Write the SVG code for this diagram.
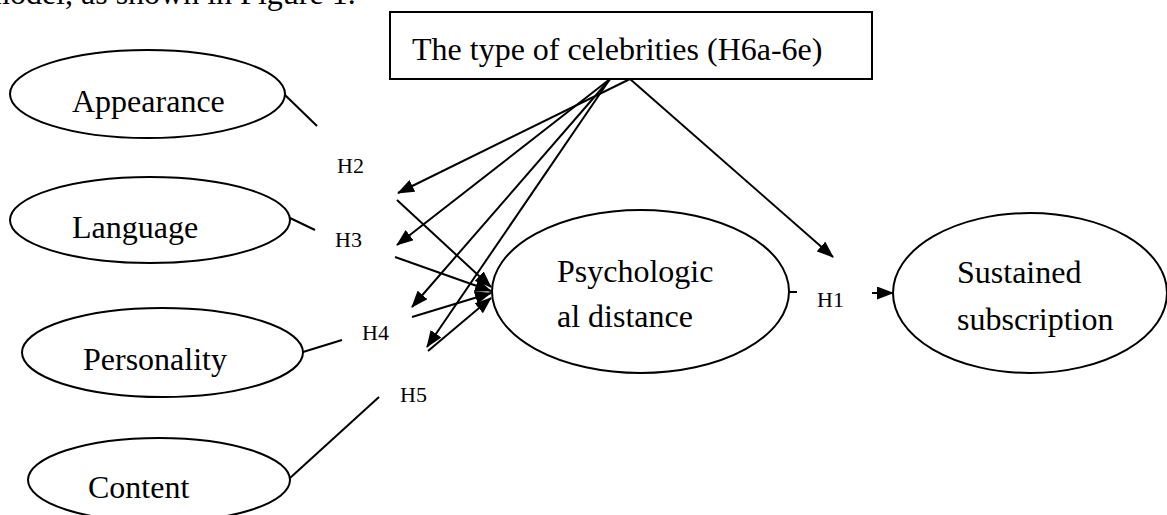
<svg xmlns="http://www.w3.org/2000/svg" width="1167" height="515" viewBox="0 0 1167 515">
<style>
.n{fill:#fff;stroke:#000;stroke-width:2}
.t{font-family:"Liberation Serif","Times New Roman",serif;font-size:32px;fill:#000}
.h{font-family:"Liberation Serif","Times New Roman",serif;font-size:22px;fill:#000}
.c{stroke:#000;stroke-width:2;fill:none}
.a{marker-end:url(#arr)}
</style>
<defs>
<marker id="arr" markerUnits="userSpaceOnUse" markerWidth="17" markerHeight="13" refX="16" refY="6.5" orient="auto">
<path d="M0,0 L17,6.5 L0,13 z" fill="#000"/>
</marker>
</defs>
<rect width="1167" height="515" fill="#fff"/>
<text class="t" x="-15" y="4">model, as shown in Figure 1.</text>
<g id="celebrities">
<rect class="n" x="390" y="12" width="482" height="67"/>
<text class="t" x="412" y="60">The type of celebrities (H6a-6e)</text>
</g>
<g id="appearance">
<ellipse class="n" cx="147.5" cy="94" rx="137.5" ry="44"/>
<text class="t" x="72" y="112">Appearance</text>
</g>
<g id="language">
<ellipse class="n" cx="150" cy="220" rx="140" ry="43"/>
<text class="t" x="72" y="238">Language</text>
</g>
<g id="personality">
<ellipse class="n" cx="162.5" cy="352.5" rx="140.5" ry="44.5"/>
<text class="t" x="83" y="370">Personality</text>
</g>
<g id="content">
<ellipse class="n" cx="159" cy="480" rx="131" ry="42"/>
<text class="t" x="88" y="498">Content</text>
</g>
<g id="psychological">
<ellipse class="n" cx="640.5" cy="291.5" rx="148.5" ry="81.5"/>
<text class="t" x="557" y="282">Psychologic</text>
<text class="t" x="557" y="327">al distance</text>
</g>
<g id="sustained">
<ellipse class="n" cx="1030" cy="293" rx="137" ry="80"/>
<text class="t" x="957" y="283">Sustained</text>
<text class="t" x="957" y="330">subscription</text>
</g>
<g id="labels">
<text class="h" x="337" y="173">H2</text>
<text class="h" x="335" y="247">H3</text>
<text class="h" x="362" y="340">H4</text>
<text class="h" x="400" y="402">H5</text>
<text class="h" x="817" y="307">H1</text>
</g>
<g id="connectors">
<line class="c" x1="285" y1="95" x2="317" y2="126"/>
<line class="c" x1="290" y1="218" x2="315" y2="230"/>
<line class="c" x1="303" y1="352" x2="342" y2="340"/>
<line class="c" x1="290" y1="478" x2="379" y2="397"/>
<line class="c a" x1="630" y1="79" x2="398" y2="193"/>
<line class="c a" x1="610" y1="79" x2="397" y2="245"/>
<line class="c a" x1="610" y1="79" x2="412" y2="307"/>
<line class="c a" x1="610" y1="79" x2="427" y2="347"/>
<line class="c a" x1="630" y1="79" x2="833" y2="257"/>
<line class="c a" x1="397" y1="200" x2="491" y2="287"/>
<line class="c a" x1="395" y1="257" x2="491" y2="291"/>
<line class="c a" x1="412" y1="317" x2="491" y2="293"/>
<line class="c a" x1="428" y1="351" x2="491" y2="298"/>
<line class="c" x1="789" y1="292" x2="797" y2="292"/>
<line class="c a" x1="872" y1="293" x2="893" y2="293"/>
</g>
</svg>
